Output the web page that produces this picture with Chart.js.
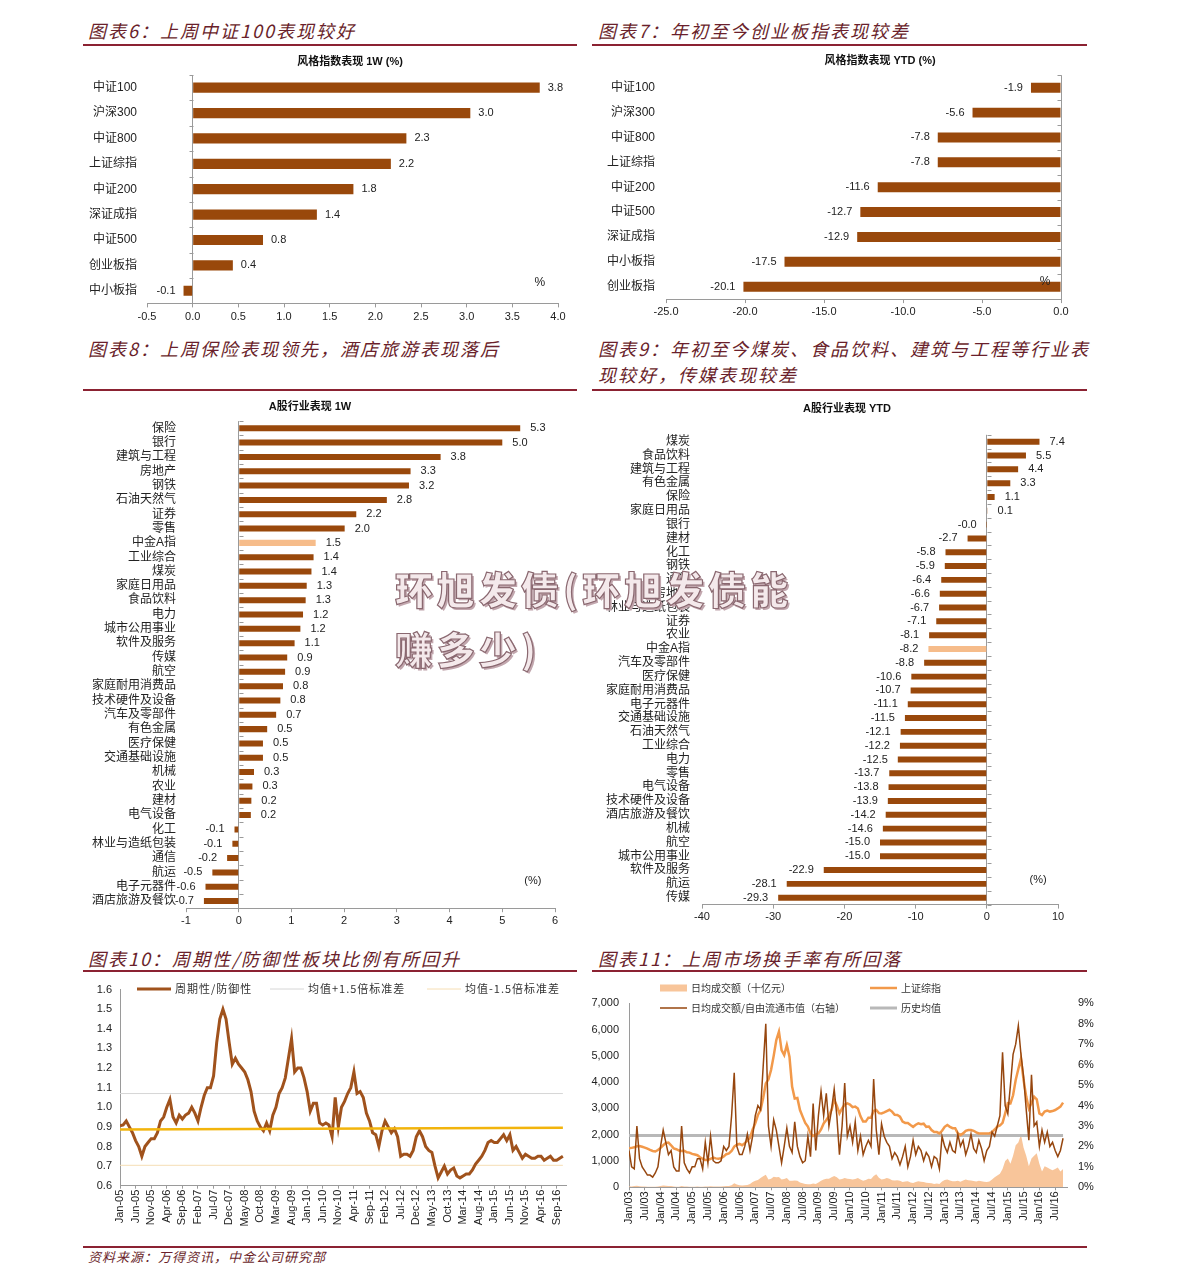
<!DOCTYPE html>
<html lang="zh-CN">
<head>
<meta charset="utf-8">
<title>A股市场表现图表</title>
<script src="https://cdn.jsdelivr.net/npm/chart.js@4.4.1/dist/chart.umd.min.js"></script>
<style>
  body { margin: 0; background: #fff; }
  #pagina { position: relative; width: 1191px; height: 1286px; background: #fff; overflow: hidden; }
  .encabezado { position: absolute; font-family: "Noto Sans CJK SC", sans-serif; font-style: italic;
    font-size: 18px; letter-spacing: 2px; line-height: 26px; color: #6a1f2b; white-space: nowrap; }
  .linea { position: absolute; height: 1.5px; background: #8b2232; }
  canvas { position: absolute; }
  #fuente { position: absolute; left: 88px; top: 1248px; font-family: "Noto Sans CJK SC", sans-serif;
    font-style: italic; font-size: 13px; line-height: 18px; letter-spacing: 1px; color: #6a1f2b; }
  #marca { position: absolute; left: 395px; top: 558px; z-index: 5; white-space: nowrap;
    font-family: "Noto Sans CJK SC", sans-serif; font-weight: 900; font-size: 38px; line-height: 60px;
    letter-spacing: 4px; color: #f4e9eb; -webkit-text-stroke: 1.2px #8a6870; text-shadow: 2px 2px 0 #c2a7ae; }
</style>
</head>
<body>
<div id="pagina">
  <div class="encabezado" style="left:88px;top:17px">图表6：上周中证100表现较好</div>
  <div class="encabezado" style="left:598px;top:17px">图表7：年初至今创业板指表现较差</div>
  <div class="linea" style="left:83px;top:44px;width:494px"></div>
  <div class="linea" style="left:592px;top:44px;width:495px"></div>

  <div class="encabezado" style="left:88px;top:335px">图表8：上周保险表现领先，酒店旅游表现落后</div>
  <div class="encabezado" style="left:598px;top:335px">图表9：年初至今煤炭、食品饮料、建筑与工程等行业表<br>现较好，传媒表现较差</div>
  <div class="linea" style="left:83px;top:389px;width:494px"></div>
  <div class="linea" style="left:592px;top:389px;width:495px"></div>

  <div class="encabezado" style="left:88px;top:945px">图表10：周期性/防御性板块比例有所回升</div>
  <div class="encabezado" style="left:598px;top:945px">图表11：上周市场换手率有所回落</div>
  <div class="linea" style="left:83px;top:970px;width:494px"></div>
  <div class="linea" style="left:592px;top:970px;width:495px"></div>

  <canvas id="chart_estilo_1w" width="495" height="280" style="left:83px;top:50px"></canvas>
  <canvas id="chart_estilo_ytd" width="495" height="280" style="left:592px;top:50px"></canvas>
  <canvas id="chart_sector_1w" width="495" height="540" style="left:83px;top:395px"></canvas>
  <canvas id="chart_sector_ytd" width="495" height="540" style="left:592px;top:395px"></canvas>
  <canvas id="chart_ciclico" width="495" height="265" style="left:83px;top:975px"></canvas>
  <canvas id="chart_rotacion" width="511" height="265" style="left:586px;top:975px"></canvas>

  <div class="linea" style="left:83px;top:1246px;width:1004px"></div>
  <div id="fuente">资料来源：万得资讯，中金公司研究部</div>

  <div id="marca">环旭发债(环旭发债能<br>赚多少)</div>
</div>

<script>
const FUENTE = '"Liberation Sans", "Noto Sans CJK SC", sans-serif';
const FUENTE_CJK = '"Noto Sans CJK SC", "Liberation Sans", sans-serif';
const COLOR_BARRA = "#99480b";
const COLOR_RESALTE = "#f6bc8a";
const COLOR_EJE = "#9a9a9a";

// 图表6 / 图表7
const indices1W = ["中证100", "沪深300", "中证800", "上证综指", "中证200", "深证成指", "中证500", "创业板指", "中小板指"];
const valores1W = [3.8, 3.04, 2.34, 2.17, 1.76, 1.36, 0.77, 0.44, -0.1];

const indicesYTD = ["中证100", "沪深300", "中证800", "上证综指", "中证200", "中证500", "深证成指", "中小板指", "创业板指"];
const valoresYTD = [-1.9, -5.6, -7.8, -7.8, -11.6, -12.7, -12.9, -17.5, -20.1];

// 图表8
const sectores1W = ["保险", "银行", "建筑与工程", "房地产", "钢铁", "石油天然气", "证券", "零售", "中金A指",
  "工业综合", "煤炭", "家庭日用品", "食品饮料", "电力", "城市公用事业", "软件及服务", "传媒", "航空",
  "家庭耐用消费品", "技术硬件及设备", "汽车及零部件", "有色金属", "医疗保健", "交通基础设施", "机械", "农业",
  "建材", "电气设备", "化工", "林业与造纸包装", "通信", "航运", "电子元器件", "酒店旅游及餐饮"];
const sectorValores1W = [5.34, 5.0, 3.83, 3.26, 3.23, 2.81, 2.23, 2.01, 1.46, 1.42, 1.38, 1.29, 1.27, 1.22, 1.17,
  1.06, 0.92, 0.88, 0.84, 0.79, 0.71, 0.54, 0.46, 0.46, 0.29, 0.26, 0.24, 0.23, -0.08, -0.12, -0.22, -0.5,
  -0.63, -0.66];

// 图表9
const sectoresYTD = ["煤炭", "食品饮料", "建筑与工程", "有色金属", "保险", "家庭日用品", "银行", "建材", "化工",
  "钢铁", "通信", "房地产", "林业与造纸包装", "证券", "农业", "中金A指", "汽车及零部件", "医疗保健",
  "家庭耐用消费品", "电子元器件", "交通基础设施", "石油天然气", "工业综合", "电力", "零售", "电气设备",
  "技术硬件及设备", "酒店旅游及餐饮", "机械", "航空", "城市公用事业", "软件及服务", "航运", "传媒"];
const sectorValoresYTD = [7.4, 5.5, 4.4, 3.3, 1.1, 0.1, -0.01, -2.7, -5.8, -5.9, -6.4, -6.6, -6.7, -7.1, -8.1,
  -8.2, -8.8, -10.6, -10.7, -11.1, -11.5, -12.1, -12.2, -12.5, -13.7, -13.8, -13.9, -14.2, -14.6, -15.0,
  -15.0, -22.9, -28.1, -29.3];

// 图表10: 周期性/防御性, 月度 Jan-05 .. Nov-16
const etiquetasCiclico = ["Jan-05", "Jun-05", "Nov-05", "Apr-06", "Sep-06", "Feb-07", "Jul-07", "Dec-07",
  "May-08", "Oct-08", "Mar-09", "Aug-09", "Jan-10", "Jun-10", "Nov-10", "Apr-11", "Sep-11", "Feb-12",
  "Jul-12", "Dec-12", "May-13", "Oct-13", "Mar-14", "Aug-14", "Jan-15", "Jun-15", "Nov-15", "Apr-16", "Sep-16"];
const ratioCiclico = [
  0.905, 0.91, 0.93, 0.90, 0.87, 0.83, 0.80, 0.75, 0.80, 0.82, 0.84, 0.84,
  0.87, 0.93, 0.95, 1.00, 1.04, 0.95, 0.92, 0.96, 0.94, 0.96, 0.97, 1.00,
  0.97, 0.93, 1.00, 1.06, 1.10, 1.10, 1.16, 1.33, 1.45, 1.50, 1.45, 1.33,
  1.22, 1.25, 1.22, 1.20, 1.18, 1.14, 1.08, 0.98, 0.93, 0.90, 0.88, 0.92,
  0.88, 0.96, 1.00, 1.07, 1.10, 1.15, 1.25, 1.35, 1.18, 1.20, 1.20, 1.15,
  1.08, 0.98, 1.02, 1.02, 0.92, 0.91, 0.92, 0.91, 0.85, 1.05, 0.90, 1.00,
  1.03, 1.07, 1.10, 1.18, 1.07, 1.08, 1.05, 0.97, 0.93, 0.87, 0.86, 0.80,
  0.88, 0.93, 0.90, 0.87, 0.89, 0.85, 0.75, 0.76, 0.76, 0.75, 0.78, 0.85,
  0.88, 0.85, 0.80, 0.78, 0.77, 0.70, 0.64, 0.67, 0.70, 0.66, 0.68, 0.69,
  0.65, 0.64, 0.65, 0.66, 0.66, 0.68, 0.71, 0.73, 0.75, 0.78, 0.82, 0.83,
  0.82, 0.82, 0.84, 0.86, 0.83, 0.86, 0.78, 0.80, 0.77, 0.74, 0.76, 0.75,
  0.74, 0.74, 0.75, 0.75, 0.73, 0.74, 0.75, 0.73, 0.73, 0.74, 0.75];
const mediaCiclico = [0.886, 0.896];
const limiteSuperior = 1.07;
const limiteInferior = 0.704;

// 图表11: 月度 Jan/03 .. Oct/16
const etiquetasRotacion = ["Jan/03", "Jul/03", "Jan/04", "Jul/04", "Jan/05", "Jul/05", "Jan/06", "Jul/06",
  "Jan/07", "Jul/07", "Jan/08", "Jul/08", "Jan/09", "Jul/09", "Jan/10", "Jul/10", "Jan/11", "Jul/11",
  "Jan/12", "Jul/12", "Jan/13", "Jul/13", "Jan/14", "Jul/14", "Jan/15", "Jul/15", "Jan/16", "Jul/16"];
const turnoverDiario = [
  40, 35, 45, 60, 40, 35, 30, 25, 25, 20, 25, 35,
  50, 70, 60, 50, 45, 30, 25, 25, 50, 35, 30, 25,
  25, 25, 30, 25, 25, 35, 30, 40, 35, 30, 30, 30,
  40, 45, 50, 80, 150, 110, 80, 70, 75, 90, 130, 200,
  250, 280, 350, 420, 480, 300, 330, 400, 380, 390, 300, 320,
  350, 250, 250, 260, 250, 180, 150, 130, 120, 120, 140, 130,
  180, 250, 300, 330, 330, 380, 430, 380, 300, 320, 350, 330,
  320, 300, 320, 350, 300, 250, 280, 330, 320, 430, 500, 360,
  300, 320, 350, 330, 270, 260, 270, 250, 200, 220, 230, 180,
  160, 200, 230, 210, 200, 170, 160, 150, 130, 140, 130, 220,
  280, 300, 260, 230, 230, 250, 210, 260, 300, 270, 260, 240,
  220, 250, 230, 210, 200, 220, 300, 380, 450, 520, 700, 1000,
  1100, 900, 1200, 1600, 1700, 2000, 1500, 1200, 800, 1100, 1200, 1300,
  900, 600, 800, 750, 700, 650, 700, 750, 600, 700];
const shanghaiComp = [
  1480, 1500, 1520, 1560, 1570, 1540, 1510, 1470, 1420, 1380, 1360, 1420,
  1500, 1600, 1690, 1700, 1600, 1480, 1450, 1400, 1380, 1390, 1330, 1320,
  1270, 1250, 1220, 1140, 1080, 1040, 1040, 1080, 1130, 1100, 1090, 1110,
  1170, 1260, 1290, 1380, 1550, 1620, 1650, 1600, 1680, 1780, 1880, 2200,
  2430, 2750, 2940, 3400, 3950, 4100, 4460, 5000, 5600, 5920, 5220, 5030,
  5410, 4970, 3830, 3380, 3400, 2940, 2690, 2450, 2310, 2050, 1950, 2000,
  2050, 2200, 2430, 2560, 2700, 2950, 3320, 3100, 2810, 3000, 3150, 3190,
  3150, 3050, 3070, 3000, 2700, 2500, 2500, 2650, 2650, 2900, 2940, 2820,
  2810, 2850, 2900, 2950, 2880, 2760, 2750, 2690, 2500, 2450, 2450, 2370,
  2300, 2380, 2430, 2400, 2420, 2300, 2310, 2180, 2100, 2100, 2050, 2150,
  2300, 2370, 2300, 2250, 2250, 2050, 1990, 2050, 2150, 2180, 2180, 2150,
  2090, 2050, 2050, 2050, 2050, 2050, 2100, 2200, 2310, 2350, 2450, 2810,
  3200, 3190, 3500, 4080, 4500, 4900, 4080, 3450, 3000, 3200, 3450, 3350,
  2810, 2750, 2880, 2920, 2880, 2900, 2940, 3000, 3070, 3220];
const turnoverRatio = [
  1.8, 1.0, 0.9, 3.0, 1.4, 1.0, 0.8, 0.6, 0.6, 0.5, 0.7, 1.0,
  2.0, 2.8, 2.2, 1.6, 1.8, 1.0, 0.8, 0.8, 3.0, 1.2, 0.9, 0.7,
  1.0, 1.0, 1.4, 1.4, 0.9, 2.2, 1.2, 2.5, 1.3, 1.2, 1.2, 1.3,
  2.0, 1.8, 2.0, 3.5, 5.6, 2.0, 1.6, 1.6, 2.0, 2.6, 1.8, 2.5,
  3.5, 4.0, 3.8, 5.9, 8.0, 3.0, 2.0, 3.3, 2.8, 2.0, 1.2, 2.0,
  2.9, 2.0, 1.7, 3.2, 2.0, 1.5, 1.2, 1.3, 2.5, 1.5, 4.1, 1.8,
  3.5, 4.7, 3.5, 4.6, 3.0, 3.8, 4.8, 3.5, 1.6, 3.0, 5.1, 2.5,
  3.0, 2.2, 3.2, 1.8, 2.5, 1.6, 2.0, 2.3, 2.0, 5.3, 2.8, 1.6,
  3.1, 2.5, 2.2, 2.0, 1.4, 1.7, 1.5, 1.1, 1.5, 2.0, 1.0, 1.5,
  2.3, 1.6, 2.0, 1.8, 1.3, 1.7, 1.5, 1.0, 1.5, 1.4, 0.9, 2.5,
  2.0, 1.7, 2.2, 1.8, 1.7, 2.6, 2.0, 2.3, 1.6, 2.0, 2.6, 1.9,
  1.7, 2.3, 1.9, 1.3, 1.8, 2.0, 2.7, 2.5, 3.0, 3.5, 6.6, 4.0,
  3.6, 5.0, 6.5, 7.0, 7.9, 6.5, 5.4, 3.8, 2.3, 5.5, 3.0, 3.2,
  2.0, 2.8, 2.2, 2.7, 2.0, 2.2, 1.8, 1.5, 1.8, 2.4];
const mediaHistorica = 2.53;

const pluginTitulo = {
  id: "titulo",
  afterDraw: function (chart, args, opts) {
    if (!opts.texto) return;
    let ctx = chart.ctx;
    ctx.save();
    ctx.font = "bold 11px " + FUENTE;
    ctx.fillStyle = "#111";
    ctx.textAlign = "center";
    ctx.textBaseline = "middle";
    ctx.fillText(opts.texto, opts.x, opts.y);
    ctx.restore();
  },
};

const pluginEtiquetas = {
  id: "etiquetas",
  afterDatasetsDraw: function (chart, args, opts) {
    if (!opts.separacion) return;
    let ctx = chart.ctx;
    let datos = chart.data.datasets[0].data;
    ctx.save();
    ctx.font = "11px " + FUENTE;
    ctx.fillStyle = "#222";
    ctx.textBaseline = "middle";
    chart.getDatasetMeta(0).data.forEach(function (barra, i) {
      let v = datos[i];
      if (v >= 0) {
        ctx.textAlign = "left";
        ctx.fillText(v.toFixed(1), barra.x + opts.separacion, barra.y);
      } else {
        ctx.textAlign = "right";
        ctx.fillText(v.toFixed(1), barra.x - opts.separacion, barra.y);
      }
    });
    ctx.restore();
  },
};

const pluginNota = {
  id: "nota",
  afterDraw: function (chart, args, opts) {
    if (!opts.texto) return;
    let ctx = chart.ctx;
    ctx.save();
    ctx.font = opts.tamano + "px " + FUENTE;
    ctx.fillStyle = "#222";
    ctx.textAlign = "center";
    ctx.textBaseline = "middle";
    ctx.fillText(opts.texto, chart.scales.x.getPixelForValue(opts.x), chart.scales.y.getPixelForValue(opts.y));
    ctx.restore();
  },
};

const pluginMarcasCero = {
  id: "marcasCero",
  afterDraw: function (chart, args, opts) {
    if (!opts.lado) return;
    let ctx = chart.ctx;
    let x0 = Math.round(chart.scales.x.getPixelForValue(0)) + 0.5;
    let escala = chart.scales.y;
    ctx.save();
    ctx.strokeStyle = COLOR_EJE;
    ctx.lineWidth = 1;
    ctx.beginPath();
    for (let i = 0; i <= chart.data.labels.length; i++) {
      let y = Math.round(escala.getPixelForValue(i - 0.5)) + 0.5;
      ctx.moveTo(x0, y);
      ctx.lineTo(x0 + opts.lado * 4, y);
    }
    ctx.stroke();
    ctx.restore();
  },
};

const pluginLeyenda = {
  id: "leyenda",
  afterDraw: function (chart, args, opts) {
    if (!opts.items) return;
    let ctx = chart.ctx;
    ctx.save();
    ctx.font = opts.tamano + "px " + FUENTE_CJK;
    ctx.textBaseline = "middle";
    ctx.textAlign = "left";
    if ("letterSpacing" in ctx) ctx.letterSpacing = opts.espacio + "px";
    opts.items.forEach(function (it) {
      let ds = chart.data.datasets[it.serie];
      if (ds.fill) {
        ctx.fillStyle = ds.backgroundColor;
        ctx.fillRect(it.x, it.y - 3.5, opts.largo, 7);
      } else {
        ctx.strokeStyle = ds.borderColor;
        ctx.lineWidth = ds.borderWidth;
        ctx.beginPath();
        ctx.moveTo(it.x, it.y);
        ctx.lineTo(it.x + opts.largo, it.y);
        ctx.stroke();
      }
      ctx.fillStyle = "#333";
      ctx.fillText(ds.label, it.x + opts.largo + 4, it.y);
    });
    ctx.restore();
  },
};

function crearBarras(id, categorias, valores, cfg) {
  let colores = categorias.map(function (c) {
    return c === "中金A指" ? COLOR_RESALTE : COLOR_BARRA;
  });

  return new Chart(document.getElementById(id), {
    type: "bar",
    data: {
      labels: categorias,
      datasets: [
        {
          data: valores,
          backgroundColor: colores,
          borderWidth: 0,
          barPercentage: cfg.grosor,
          categoryPercentage: 1,
        },
      ],
    },
    options: {
      indexAxis: "y",
      responsive: false,
      animation: false,
      layout: { padding: { top: cfg.arriba, right: cfg.derecha, left: 0, bottom: 0 } },
      plugins: {
        legend: { display: false },
        tooltip: { enabled: false },
        titulo: { texto: cfg.titulo, x: cfg.tituloX, y: cfg.tituloY },
        etiquetas: { separacion: cfg.separacion },
        nota: { texto: cfg.nota, x: cfg.notaX, y: cfg.notaY, tamano: cfg.notaTamano },
        marcasCero: { lado: cfg.ladoMarca },
      },
      scales: {
        x: {
          min: cfg.min,
          max: cfg.max,
          ticks: {
            stepSize: cfg.paso,
            padding: cfg.padX,
            color: "#222",
            font: { size: 11, family: FUENTE },
            callback: function (v) {
              return Number(v).toFixed(cfg.decimales);
            },
          },
          grid: {
            color: function (c) {
              return c.tick && Math.abs(c.tick.value) < 1e-9 ? COLOR_EJE : "rgba(0,0,0,0)";
            },
            tickColor: COLOR_EJE,
            tickLength: 4,
          },
          border: { color: COLOR_EJE },
          afterFit: function (s) {
            s.height = cfg.altoX;
          },
        },
        y: {
          grid: { display: false, drawTicks: false },
          border: { display: false },
          ticks: { padding: cfg.padY, color: "#222", autoSkip: false, font: { size: 12, family: FUENTE } },
          afterFit: function (s) {
            s.width = cfg.anchoY;
          },
        },
      },
    },
    plugins: [pluginTitulo, pluginEtiquetas, pluginNota, pluginMarcasCero],
  });
}

function aPuntos(serie) {
  return serie.map(function (v, i) {
    return { x: i, y: v };
  });
}

function cargarGraficoCiclico() {
  let ultimo = ratioCiclico.length - 1;
  new Chart(document.getElementById("chart_ciclico"), {
    type: "line",
    data: {
      datasets: [
        {
          label: "周期性/防御性",
          data: aPuntos(ratioCiclico),
          borderColor: "#a0521c",
          borderWidth: 3,
          pointRadius: 0,
          order: 1,
        },
        {
          label: "均值+1.5倍标准差",
          data: [{ x: 0, y: limiteSuperior }, { x: ultimo, y: limiteSuperior }],
          borderColor: "#d6d6d6",
          borderWidth: 1,
          pointRadius: 0,
          order: 2,
        },
        {
          label: "均值-1.5倍标准差",
          data: [{ x: 0, y: limiteInferior }, { x: ultimo, y: limiteInferior }],
          borderColor: "#f6deb4",
          borderWidth: 1,
          pointRadius: 0,
          order: 2,
        },
        {
          label: "均值",
          data: [{ x: 0, y: mediaCiclico[0] }, { x: ultimo, y: mediaCiclico[1] }],
          borderColor: "#f2b40c",
          borderWidth: 2.5,
          pointRadius: 0,
          order: 0,
        },
      ],
    },
    options: {
      responsive: false,
      animation: false,
      layout: { padding: { top: 12.3, right: 12, left: 0, bottom: 0 } },
      plugins: {
        legend: { display: false },
        tooltip: { enabled: false },
        leyenda: {
          tamano: 11,
          espacio: 1,
          largo: 34,
          items: [
            { serie: 0, x: 54, y: 14 },
            { serie: 1, x: 187, y: 14 },
            { serie: 2, x: 344, y: 14 },
          ],
        },
      },
      scales: {
        x: {
          type: "linear",
          min: 0,
          max: 143,
          ticks: {
            stepSize: 5,
            includeBounds: false,
            autoSkip: false,
            maxRotation: 90,
            minRotation: 90,
            padding: 1,
            color: "#222",
            font: { size: 11 },
            callback: function (v) {
              return etiquetasCiclico[v / 5] || "";
            },
          },
          grid: { drawOnChartArea: false, tickLength: 3, color: COLOR_EJE },
          border: { color: COLOR_EJE },
          afterFit: function (s) {
            s.height = 54.3;
          },
        },
        y: {
          min: 0.6,
          max: 1.6,
          ticks: {
            stepSize: 0.1,
            padding: 8,
            color: "#222",
            font: { size: 11 },
            callback: function (v) {
              return Number(v).toFixed(1);
            },
          },
          grid: { display: false, drawTicks: false },
          border: { color: COLOR_EJE },
          afterFit: function (s) {
            s.width = 37;
          },
        },
      },
    },
    plugins: [pluginLeyenda],
  });
}

function cargarGraficoRotacion() {
  let ultimo = turnoverRatio.length - 1;
  new Chart(document.getElementById("chart_rotacion"), {
    type: "line",
    data: {
      datasets: [
        {
          label: "日均成交额（十亿元）",
          data: aPuntos(turnoverDiario),
          yAxisID: "y",
          fill: "origin",
          backgroundColor: "#f8c59a",
          borderColor: "#f8c59a",
          borderWidth: 0,
          pointRadius: 0,
          order: 4,
        },
        {
          label: "上证综指",
          data: aPuntos(shanghaiComp),
          yAxisID: "y",
          borderColor: "#f2994a",
          borderWidth: 2.5,
          pointRadius: 0,
          order: 2,
        },
        {
          label: "日均成交额/自由流通市值（右轴）",
          data: aPuntos(turnoverRatio),
          yAxisID: "y1",
          borderColor: "#96460e",
          borderWidth: 1.5,
          pointRadius: 0,
          order: 1,
        },
        {
          label: "历史均值",
          data: [{ x: 0, y: mediaHistorica }, { x: ultimo, y: mediaHistorica }],
          yAxisID: "y1",
          borderColor: "#b8b8b8",
          borderWidth: 3,
          pointRadius: 0,
          order: 3,
        },
      ],
    },
    options: {
      responsive: false,
      animation: false,
      layout: { padding: { top: 28.3, right: 0, left: 0, bottom: 0 } },
      plugins: {
        legend: { display: false },
        tooltip: { enabled: false },
        leyenda: {
          tamano: 10,
          espacio: 0,
          largo: 27,
          items: [
            { serie: 0, x: 74, y: 13 },
            { serie: 1, x: 284, y: 13 },
            { serie: 2, x: 74, y: 33 },
            { serie: 3, x: 284, y: 33 },
          ],
        },
      },
      scales: {
        x: {
          type: "linear",
          min: 0,
          max: 166.5,
          ticks: {
            stepSize: 6,
            includeBounds: false,
            autoSkip: false,
            maxRotation: 90,
            minRotation: 90,
            padding: 1,
            color: "#222",
            font: { size: 11 },
            callback: function (v) {
              return etiquetasRotacion[v / 6] || "";
            },
          },
          grid: { drawOnChartArea: false, tickLength: 3, color: COLOR_EJE },
          border: { color: COLOR_EJE },
          afterFit: function (s) {
            s.height = 52.7;
          },
        },
        y: {
          position: "left",
          min: 0,
          max: 7000,
          ticks: {
            stepSize: 1000,
            padding: 10,
            color: "#222",
            font: { size: 11 },
            callback: function (v) {
              return Number(v).toLocaleString("en-US");
            },
          },
          grid: { display: false, drawTicks: false },
          border: { color: COLOR_EJE },
          afterFit: function (s) {
            s.width = 43;
          },
        },
        y1: {
          position: "right",
          min: 0,
          max: 9,
          ticks: {
            stepSize: 1,
            padding: 11,
            color: "#222",
            font: { size: 11 },
            callback: function (v) {
              return v + "%";
            },
          },
          grid: { display: false, drawTicks: false },
          border: { display: false },
          afterFit: function (s) {
            s.width = 30;
          },
        },
      },
    },
    plugins: [pluginLeyenda],
  });
}

Chart.defaults.font.family = FUENTE;

crearBarras("chart_estilo_1w", indices1W, valores1W, {
  arriba: 25, derecha: 20, anchoY: 64, altoX: 26.6, padY: 10, padX: 3,
  min: -0.5, max: 4, paso: 0.5, decimales: 1, grosor: 0.4, separacion: 8,
  titulo: "风格指数表现 1W (%)", tituloX: 267, tituloY: 12,
  nota: "%", notaX: 3.8, notaY: 7.7, notaTamano: 12, ladoMarca: -1,
});

crearBarras("chart_estilo_ytd", indicesYTD, valoresYTD, {
  arriba: 25.3, derecha: 26, anchoY: 74, altoX: 30.9, padY: 11, padX: 2,
  min: -25, max: 0, paso: 5, decimales: 1, grosor: 0.4, separacion: 8,
  titulo: "风格指数表现 YTD (%)", tituloX: 288, tituloY: 11,
  nota: "%", notaX: -1.0, notaY: 7.8, notaTamano: 12, ladoMarca: -1,
});

crearBarras("chart_sector_1w", sectores1W, sectorValores1W, {
  arriba: 26.1, derecha: 23, anchoY: 103, altoX: 26.8, padY: 10, padX: 2,
  min: -1, max: 6, paso: 1, decimales: 0, grosor: 0.42, separacion: 10,
  titulo: "A股行业表现 1W", tituloX: 227, tituloY: 12,
  nota: "(%)", notaX: 5.58, notaY: 31.6, notaTamano: 11, ladoMarca: 1,
});

crearBarras("chart_sector_ytd", sectoresYTD, sectorValoresYTD, {
  arriba: 39.8, derecha: 29, anchoY: 110, altoX: 30.4, padY: 12, padX: 2,
  min: -40, max: 10, paso: 10, decimales: 0, grosor: 0.43, separacion: 10,
  titulo: "A股行业表现 YTD", tituloX: 255, tituloY: 14,
  nota: "(%)", notaX: 7.2, notaY: 31.7, notaTamano: 11, ladoMarca: 1,
});

cargarGraficoCiclico();
cargarGraficoRotacion();
</script>
</body>
</html>
